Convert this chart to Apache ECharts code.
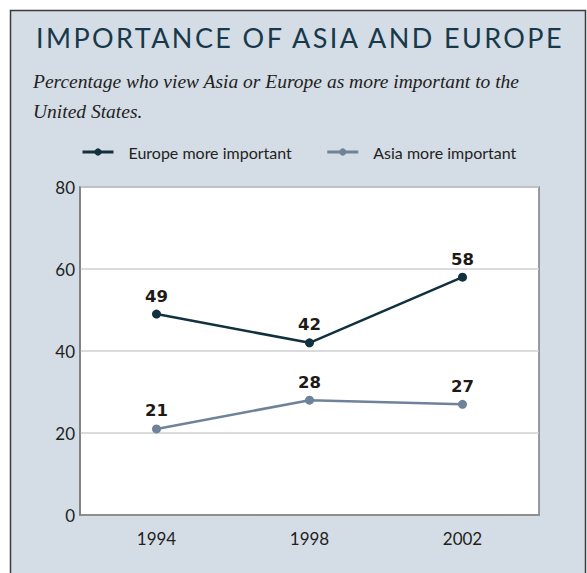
<!DOCTYPE html>
<html>
<head>
<meta charset="utf-8">
<script src="https://cdn.jsdelivr.net/npm/echarts@6/dist/echarts.min.js"></script>
<style>
  html, body { margin: 0; padding: 0; background: #ffffff; }
  #chart { width: 587px; height: 573px; }
</style>
</head>
<body>
<div id="chart"></div>
<script>
// Survey years on the category axis
const years = ['1994', '1998', '2002'];
// Percentage who say Europe is more important to the U.S.
const europeValues = [49, 42, 58];
// Percentage who say Asia is more important to the U.S.
const asiaValues = [21, 28, 27];
// Value axis ticks
const yTicks = [0, 20, 40, 60, 80];

const titleText = 'IMPORTANCE OF ASIA AND EUROPE';
const subtitleText = 'Percentage who view Asia or Europe as more important to the\nUnited States.';

const chart = echarts.init(document.getElementById('chart'), null, { renderer: 'svg' });

const labelStyle = {
  show: true,
  position: 'top',
  distance: 5,
  fontFamily: '"DejaVu Sans", sans-serif',
  fontWeight: 'bold',
  fontSize: 16.5,
  color: '#1e1a16',
  backgroundColor: '#ffffff',
  padding: [0, 4, 0, 4]
};

chart.setOption({
  animation: false,
  graphic: [{
    type: 'rect',
    z: -10,
    silent: true,
    shape: { x: 10.5, y: 10.5, width: 575, height: 600 },
    style: { fill: '#d4dce6', stroke: '#3a3a3a', lineWidth: 1.5 }
  }],
  title: [{
    text: titleText,
    left: 31,
    top: 19,
    textStyle: {
      fontFamily: 'Lato, "DejaVu Sans", sans-serif',
      fontWeight: 'normal',
      fontSize: 27,
      color: '#17394a'
    }
  }, {
    text: subtitleText,
    left: 28,
    top: 61,
    textStyle: {
      fontFamily: '"Liberation Serif", "DejaVu Serif", serif',
      fontStyle: 'italic',
      fontWeight: 'normal',
      fontSize: 19.5,
      lineHeight: 30,
      color: '#231f1c'
    }
  }],
  legend: {
    left: 76,
    top: 139,
    itemWidth: 31,
    itemHeight: 9,
    itemGap: 34,
    lineStyle: { width: 3 },
    textStyle: {
      fontFamily: 'Lato, "DejaVu Sans", sans-serif',
      fontSize: 16,
      color: '#231f1c',
      padding: [0, 0, 0, 10]
    },
    data: ['Europe more important', 'Asia more important']
  },
  grid: {
    left: 80,
    right: 48,
    top: 187,
    bottom: 58,
    show: true,
    backgroundColor: '#ffffff',
    borderColor: '#7d7d7d',
    borderWidth: 1.5
  },
  xAxis: {
    type: 'category',
    data: years,
    boundaryGap: true,
    axisLine: { lineStyle: { color: '#7d7d7d', width: 1.5 } },
    axisTick: { show: false },
    axisLabel: {
      margin: 15,
      fontFamily: 'Lato, "DejaVu Sans", sans-serif',
      fontSize: 17,
      color: '#231f1c'
    }
  },
  yAxis: {
    type: 'value',
    min: yTicks[0],
    max: yTicks[yTicks.length - 1],
    interval: yTicks[1] - yTicks[0],
    axisLine: { show: true, lineStyle: { color: '#7d7d7d', width: 1.5 } },
    axisTick: { show: false },
    axisLabel: {
      margin: 5,
      fontFamily: 'Lato, "DejaVu Sans", sans-serif',
      fontSize: 17,
      color: '#231f1c'
    },
    splitLine: { lineStyle: { color: '#cfcfcf', width: 1.5 } }
  },
  series: [{
    name: 'Europe more important',
    type: 'line',
    data: europeValues,
    symbol: 'circle',
    symbolSize: 9,
    lineStyle: { color: '#12313f', width: 2.5 },
    itemStyle: { color: '#12313f' },
    label: labelStyle,
    z: 3
  }, {
    name: 'Asia more important',
    type: 'line',
    data: asiaValues,
    symbol: 'circle',
    symbolSize: 9,
    lineStyle: { color: '#6e8399', width: 2.5 },
    itemStyle: { color: '#6e8399' },
    label: labelStyle,
    z: 2
  }]
});

// Spread the heading letters apart
document.querySelectorAll('#chart svg text').forEach(function (t) {
  if (t.textContent === titleText) {
    t.setAttribute('letter-spacing', '2.4');
  }
});
</script>
</body>
</html>
